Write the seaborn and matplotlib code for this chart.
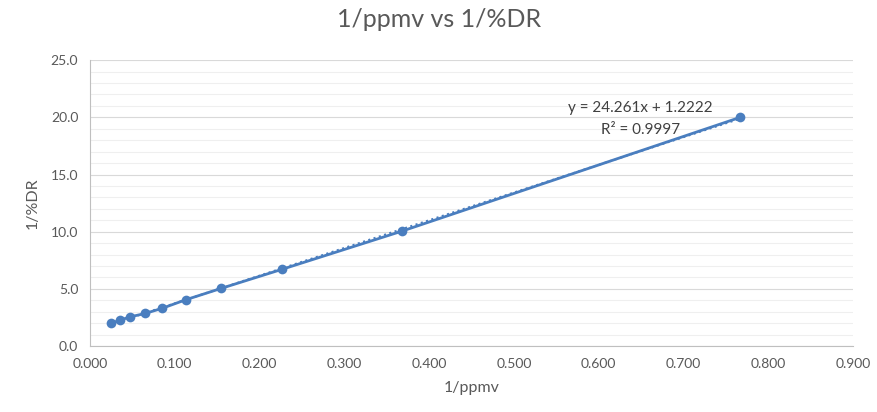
import numpy as np
import pandas as pd
import matplotlib
matplotlib.use("Agg")
import matplotlib.pyplot as plt
import seaborn as sns

# data
inv_ppmv = [0.025, 0.035, 0.047, 0.065, 0.085, 0.113, 0.155, 0.226, 0.368, 0.767]
inv_dr = [2.0, 2.25, 2.55, 2.85, 3.3, 4.05, 5.05, 6.7, 10.05, 20.0]
x_ticks = [0.0, 0.1, 0.2, 0.3, 0.4, 0.5, 0.6, 0.7, 0.8, 0.9]
y_ticks = [0.0, 5.0, 10.0, 15.0, 20.0, 25.0]

df = pd.DataFrame({"x": inv_ppmv, "y": inv_dr})

sns.set_style("white")
plt.rcParams["font.family"] = ["Lato", "DejaVu Sans"]

blue = "#4A7EBF"
grey = "#595959"

fig = plt.figure(figsize=(8.78, 4.12), dpi=100)
ax = fig.add_axes([0.1025, 0.160, 0.869, 0.694])

# minor and major horizontal gridlines
for v in np.arange(0, 25.01, 1.0):
    ax.axhline(v, color="#D9D9D9" if v % 5 == 0 else "#EFEFEF", lw=0.8, zorder=0)

# series line with markers
sns.lineplot(data=df, x="x", y="y", ax=ax, color=blue, lw=2.0, marker="o",
             markersize=7, markeredgewidth=0, zorder=3)
# linear trendline
sns.regplot(data=df, x="x", y="y", ax=ax, ci=None, truncate=True, scatter=False,
            line_kws={"color": blue, "lw": 1.5, "ls": ":"})

ax.text(0.649, 20.8, "y = 24.261x + 1.2222", ha="center", va="center",
        fontsize=11, color="#404040")
ax.text(0.649, 18.9, "R² = 0.9997", ha="center", va="center",
        fontsize=11, color="#404040")

ax.set_xlim(0, 0.9)
ax.set_ylim(0, 25)
ax.set_xticks(x_ticks)
ax.set_yticks(y_ticks)
ax.set_xticklabels([f"{t:.3f}" for t in x_ticks])
ax.set_yticklabels([f"{t:.1f}" for t in y_ticks])
ax.tick_params(axis="both", colors="#BFBFBF", labelcolor=grey, labelsize=10,
               length=5, width=0.8, direction="out")
for side in ["top", "right"]:
    ax.spines[side].set_visible(False)
for side in ["left", "bottom"]:
    ax.spines[side].set_color("#BFBFBF")
    ax.spines[side].set_linewidth(0.8)

ax.set_xlabel("1/ppmv", fontsize=11.5, color=grey, labelpad=8)
ax.set_ylabel("1/%DR", fontsize=11.5, color=grey, labelpad=8)
fig.suptitle("1/ppmv vs 1/%DR", fontsize=18, color=grey, y=0.98)

fig.savefig("out.png", dpi=100)
